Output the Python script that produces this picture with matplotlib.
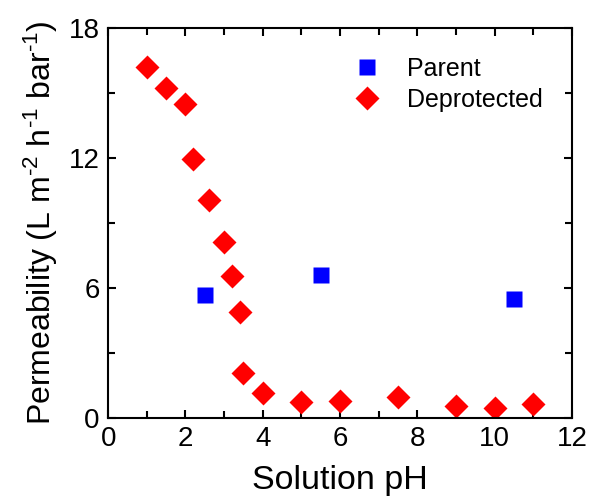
import matplotlib
matplotlib.use('Agg')
import matplotlib.pyplot as plt
from matplotlib.ticker import MultipleLocator

plt.rcParams['font.family'] = ['Liberation Sans', 'DejaVu Sans']
plt.rcParams['mathtext.fontset'] = 'custom'
plt.rcParams['mathtext.rm'] = 'Liberation Sans'
plt.rcParams['mathtext.it'] = 'Liberation Sans:italic'

# 数据
parent_ph = [2.5, 5.5, 10.5]
parent_perm = [5.7, 6.6, 5.5]

deprot_ph = [1, 1.5, 2, 2.2, 2.6, 3, 3.2, 3.4, 3.5, 4, 5, 6, 7.5, 9, 10, 11]
deprot_perm = [16.2, 15.2, 14.5, 11.95, 10.05, 8.1, 6.55, 4.9, 2.08, 1.15,
               0.75, 0.78, 0.97, 0.55, 0.46, 0.65]

fig = plt.figure(figsize=(5.91, 4.96), dpi=100)
ax = fig.add_axes([0.183, 0.157, 0.785, 0.787])

ax.plot(parent_ph, parent_perm, 's', color='#0000ff', ms=12, mec='none', label='Parent')
ax.plot(deprot_ph, deprot_perm, 'D', color='#ff0000', ms=12.5, mec='none', label='Deprotected')

ax.set_xlim(0, 12)
ax.set_ylim(0, 18)
ax.xaxis.set_major_locator(MultipleLocator(2))
ax.xaxis.set_minor_locator(MultipleLocator(1))
ax.yaxis.set_major_locator(MultipleLocator(6))
ax.yaxis.set_minor_locator(MultipleLocator(3))

for s in ax.spines.values():
    s.set_linewidth(1.5)
ax.tick_params(which='both', direction='in', top=True, right=True, width=1.5)
ax.tick_params(which='major', length=6, labelsize=20, pad=6)
ax.tick_params(which='minor', length=5)

ax.set_xlabel('Solution pH', fontsize=24.5, labelpad=9)
ax.set_ylabel(r'Permeability (L m$^{\text{-2}}$ h$^{\text{-1}}$ bar$^{\text{-1}}$)',
              fontsize=23, labelpad=6)

ax.legend(loc='upper right', frameon=False, fontsize=18, handletextpad=0.6,
          labelspacing=0.3, borderaxespad=0.6, bbox_to_anchor=(0.99, 0.99))

plt.savefig('out.png', dpi=100)
